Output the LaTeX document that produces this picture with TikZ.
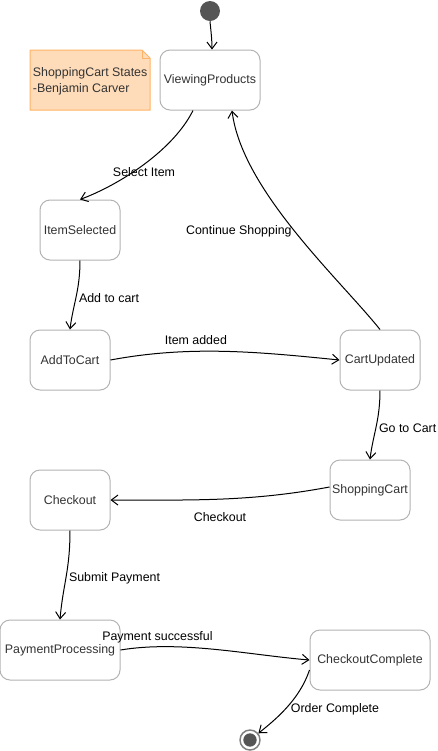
\documentclass[tikz,border=0pt]{standalone}
\usepackage{fontspec}
\setmainfont{Liberation Sans}
\usetikzlibrary{arrows.meta,calc}
\definecolor{stateline}{HTML}{B3B3B3}
\definecolor{statetext}{HTML}{333333}
\definecolor{notefill}{HTML}{FFDCB9}
\definecolor{noteline}{HTML}{FFB366}
\definecolor{dotfill}{HTML}{555555}
\tikzset{
  statebox/.style={draw=stateline, fill=white, rounded corners=7.5pt, minimum width=60pt, minimum height=45pt,
    text=statetext, font=\fontsize{9.3}{12}\selectfont, line width=.75pt, inner sep=1pt},
  trans/.style={line width=.75pt, -{Straight Barb[length=5pt,width=7.5pt]}},
  tlabel/.style={font=\fontsize{9.3}{12}\selectfont, inner sep=2pt},
}
\begin{document}
\begin{tikzpicture}[x=0.75pt, y=-0.75pt]
      \useasboundingbox (0,0) rectangle (438,751);

      % note with folded corner
      \filldraw[fill=notefill, draw=noteline, line width=.75pt] (30,50) -- (142,50) -- (150,58) -- (150,110) -- (30,110) -- cycle;
      \draw[noteline, line width=.75pt] (142,50) -- (142,58) -- (150,58);
      \node[tlabel, anchor=west, align=left, text=statetext] (note) at (30,81) {ShoppingCart States\\-Benjamin Carver};

      % start and end
      \node[circle, fill=dotfill, minimum size=15pt, inner sep=0pt] (start) at (210,11) {};
      \node[circle, draw=gray, fill=white, line width=1.1pt, minimum size=15pt, inner sep=0pt] (end) at (250,740) {};
      \node[circle, fill=dotfill, minimum size=10pt, inner sep=0pt] (endin) at (end) {};

      % states
      \node[statebox, minimum width=75pt] (vp) at (210,80) {ViewingProducts};
      \node[statebox] (is) at (80,230) {ItemSelected};
      \node[statebox] (ac) at (70,360) {AddToCart};
      \node[statebox] (cu) at (380,360) {CartUpdated};
      \node[statebox] (sc) at (370,490) {ShoppingCart};
      \node[statebox] (co) at (70,500) {Checkout};
      \node[statebox, minimum width=90pt] (pp) at (60,650) {PaymentProcessing};
      \node[statebox, minimum width=90pt] (cc) at (370,660) {CheckoutComplete};

      % transitions
      \draw[trans] (start) .. controls +(0,12) and +(0,-12) .. ($(vp.north)+(2,0)$);
      \draw[trans] ($(vp.south)+(-17,0)$) .. controls +(-20,40) and +(40,-15) .. (is.north) node[tlabel, pos=.5, below] {Select Item};
      \draw[trans] (is.south) .. controls +(0,30) and +(3,-25) .. (ac.north) node[tlabel, pos=.52, right] {Add to cart};
      \draw[trans] (ac.east) .. controls +(80,-15) and +(-80,-8) .. (cu.west) node[tlabel, pos=.37, above=3pt] {Item added};
      \draw[trans] (cu.north) .. controls +(-40,-50) and +(10,80) .. ($(vp.south)+(22,0)$) node[tlabel, pos=.5, left] {Continue Shopping};
      \draw[trans] (cu.south) .. controls +(0,30) and +(3,-25) .. (sc.north) node[tlabel, pos=.52, right] {Go to Cart};
      \draw[trans] ($(sc.west)+(0,-3)$) .. controls +(-80,15) and +(80,0) .. (co.east) node[tlabel, pos=.5, below=8pt] {Checkout};
      \draw[trans] (co.south) .. controls +(0,40) and +(3,-35) .. (pp.north) node[tlabel, pos=.52, right] {Submit Payment};
      \draw[trans] (pp.east) .. controls +(60,-10) and +(-60,-5) .. (cc.west) node[tlabel, pos=.2, above] {Payment successful};
      \draw[trans] ($(cc.west)+(0,10)$) .. controls +(-10,30) and +(25,-20) .. (end) node[tlabel, pos=.38, anchor=north west, xshift=-4pt] {Order Complete};

    \end{tikzpicture}
\end{document}
